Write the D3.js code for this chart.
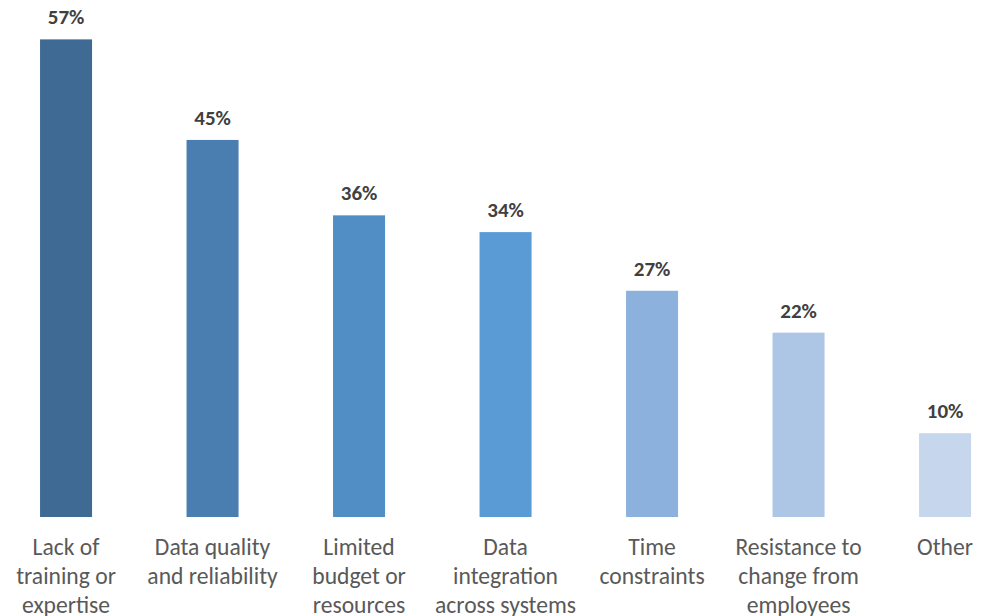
<!DOCTYPE html>
<html>
<head>
<meta charset="utf-8">
<script src="https://cdn.jsdelivr.net/npm/d3@7"></script>
<style>
  html, body { margin: 0; padding: 0; background: #ffffff; }
  svg { display: block; }
</style>
</head>
<body>
<svg id="chart" width="988" height="616"></svg>
<script>
// Reported challenges (share of respondents, %)
const categories = [
  ["Lack of", "training or", "expertise"],
  ["Data quality", "and reliability"],
  ["Limited", "budget or", "resources"],
  ["Data", "integration", "across systems"],
  ["Time", "constraints"],
  ["Resistance to", "change from", "employees"],
  ["Other"]
];
const values = [57, 45, 36, 34, 27, 22, 10];
const barColors = ["#3f6a93", "#4a7eb0", "#508ec5", "#5b9bd5", "#8cb1dc", "#adc6e6", "#c6d7ed"];

const W = 988, H = 616;
const baseline = 517;
const svg = d3.select("#chart");

const keys = categories.map((c, i) => i);
const x = d3.scaleBand()
  .domain(keys)
  .range([-7.2, 1018.3])
  .paddingInner(0.645)
  .paddingOuter(0.3225);

const y = d3.scaleLinear()
  .domain([0, 61.7])
  .range([baseline, 0]);

const font = "Carlito, Lato, 'Open Sans', sans-serif";

// Bars
svg.append("g").selectAll("rect")
  .data(values)
  .join("rect")
  .attr("x", (d, i) => x(i))
  .attr("y", d => y(d))
  .attr("width", x.bandwidth())
  .attr("height", d => baseline - y(d))
  .attr("fill", (d, i) => barColors[i]);

// Value labels
svg.append("g").selectAll("text")
  .data(values)
  .join("text")
  .attr("x", (d, i) => x(i) + x.bandwidth() / 2)
  .attr("y", d => y(d) - 15)
  .attr("text-anchor", "middle")
  .attr("font-family", font)
  .attr("font-weight", "bold")
  .attr("font-size", 21)
  .attr("fill", "#404040")
  .text(d => d + "%");

// Category labels
const labels = svg.append("g").selectAll("text")
  .data(categories)
  .join("text")
  .attr("x", (d, i) => x(i) + x.bandwidth() / 2)
  .attr("y", 555)
  .attr("text-anchor", "middle")
  .attr("font-family", font)
  .attr("font-size", 23.6)
  .attr("fill", "#595959");

labels.selectAll("tspan")
  .data(d => d)
  .join("tspan")
  .attr("x", function () { return d3.select(this.parentNode).attr("x"); })
  .attr("dy", (d, j) => j === 0 ? 0 : 29)
  .text(d => d);
</script>
</body>
</html>
